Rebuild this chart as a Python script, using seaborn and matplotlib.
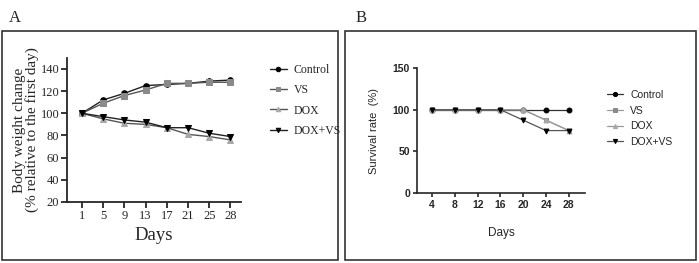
import pandas as pd
import matplotlib.pyplot as plt
import seaborn as sns
from matplotlib.patches import Rectangle

groups = ['Control', 'VS', 'DOX', 'DOX+VS']

# panel A: body weight change
days_a = [1, 5, 9, 13, 17, 21, 25, 28]
control_a = [100, 112, 118, 125, 126, 127, 129, 130]
vs_a = [100, 109, 116, 121, 127, 127, 128, 128]
dox_a = [100, 95, 91, 90, 87, 81, 79, 76]
doxvs_a = [100, 97, 94, 92, 87, 87, 82, 79]

# panel B: survival rate
days_b = [4, 8, 12, 16, 20, 24, 28]
control_b = [100, 100, 100, 100, 100, 100, 100]
vs_b = [100, 100, 100, 100, 100, 87.5, 75]
dox_b = [100, 100, 100, 100, 100, 87.5, 75]
doxvs_b = [100, 100, 100, 100, 87.5, 75, 75]

markers = {'Control': 'o', 'VS': 's', 'DOX': '^', 'DOX+VS': 'v'}
mcolors = {'Control': 'black', 'VS': '#8a8a8a', 'DOX': '#a8a8a8', 'DOX+VS': 'black'}


def long_df(days, series):
    rows = []
    for g, vals in zip(groups, series):
        for i, (d, v) in enumerate(zip(days, vals)):
            rows.append({'pos': i, 'day': d, 'value': v, 'group': g})
    return pd.DataFrame(rows)


df_a = long_df(days_a, [control_a, vs_a, dox_a, doxvs_a])
df_b = long_df(days_b, [control_b, vs_b, dox_b, doxvs_b])

sns.set_style('ticks')
fig = plt.figure(figsize=(6.99, 2.63), dpi=100)

# panel frames
for x0, x1 in [(0.003, 0.4835), (0.4936, 0.9957)]:
    fig.patches.append(Rectangle((x0, 0.011), x1 - x0, 0.871, transform=fig.transFigure,
                                 fill=False, edgecolor='#333333', lw=1.2))
fig.text(0.012, 0.93, 'A', fontsize=12, family='Liberation Serif', va='center')
fig.text(0.508, 0.93, 'B', fontsize=12, family='Liberation Serif', va='center')


def draw(ax, df, line_colors, lw, ms):
    for g in groups:
        sub = df[df['group'] == g]
        sns.lineplot(data=sub, x='pos', y='value', ax=ax, color=line_colors[g], lw=lw,
                     marker=markers[g], markersize=ms, markerfacecolor=mcolors[g],
                     markeredgecolor=mcolors[g], label=g, legend=False)


# ---- panel A ----
serif = 'Liberation Serif'
ax1 = fig.add_axes([0.0959, 0.232, 0.249, 0.548])
draw(ax1, df_a, {'Control': '#222222', 'VS': '#555555', 'DOX': '#555555', 'DOX+VS': '#222222'}, 1.0, 4)
ax1.set_xlim(-0.7, 7.5)
ax1.set_ylim(20, 150)
ax1.set_yticks(range(20, 141, 20))
ax1.set_xticks(range(len(days_a)))
ax1.set_xticklabels(days_a)
for lab in ax1.get_xticklabels() + ax1.get_yticklabels():
    lab.set_family(serif)
    lab.set_fontsize(9)
ax1.set_xlabel('Days', family=serif, fontsize=13.5)
ax1.set_ylabel('Body weight change\n(% relative to the first day)', family=serif,
               fontsize=11, linespacing=0.9)
ax1.yaxis.set_label_coords(-0.16, 0.5)
sns.despine(ax=ax1)
for s in ['left', 'bottom']:
    ax1.spines[s].set_linewidth(1.3)
ax1.tick_params(width=1.3, length=4, pad=1.5)
h, l = ax1.get_legend_handles_labels()
ax1.legend(h, l, loc='upper left', bbox_to_anchor=(1.14, 0.99), borderaxespad=0,
           frameon=False, prop={'family': serif, 'size': 8.5}, handlelength=1.4,
           handletextpad=0.6, labelspacing=0.7, markerscale=0.8)

# ---- panel B ----
sans = 'Liberation Sans'
ax2 = fig.add_axes([0.5966, 0.266, 0.240, 0.475])
draw(ax2, df_b, {'Control': '#333333', 'VS': '#999999', 'DOX': '#999999', 'DOX+VS': '#555555'}, 0.9, 3.5)
ax2.set_xlim(-0.66, 6.7)
ax2.set_ylim(0, 150)
ax2.set_yticks([0, 50, 100, 150])
ax2.set_xticks(range(len(days_b)))
ax2.set_xticklabels(days_b)
for lab in ax2.get_xticklabels() + ax2.get_yticklabels():
    lab.set_family(sans)
    lab.set_fontsize(7.5)
    lab.set_fontweight('bold')
ax2.set_xlabel('Days', family=sans, fontsize=8.5, labelpad=12)
ax2.set_ylabel('Survival rate  (%)', family=sans, fontsize=8, labelpad=10)
sns.despine(ax=ax2)
for s in ['left', 'bottom']:
    ax2.spines[s].set_linewidth(1.2)
ax2.tick_params(width=1.2, length=3, pad=2)
h, l = ax2.get_legend_handles_labels()
ax2.legend(h, l, loc='upper left', bbox_to_anchor=(1.11, 0.86), borderaxespad=0,
           frameon=False, prop={'family': sans, 'size': 7.5}, handlelength=1.5,
           handletextpad=0.7, labelspacing=0.55, markerscale=0.85)

fig.savefig('out.png', dpi=100)
